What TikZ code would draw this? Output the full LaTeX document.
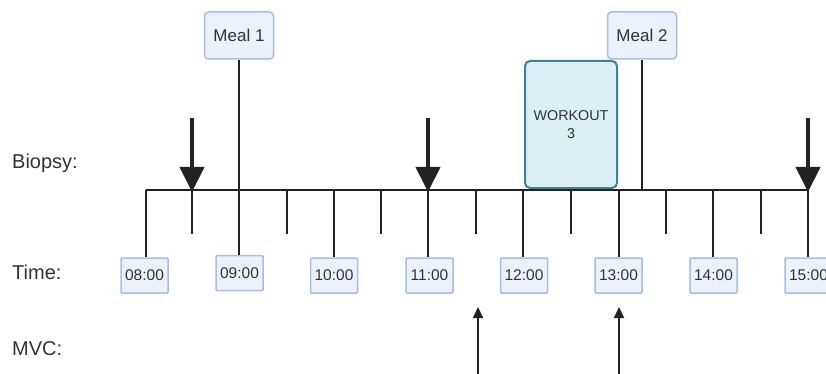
\documentclass[tikz,border=0pt]{standalone}
\usepackage{fontspec}
\setmainfont{Liberation Sans}
\usetikzlibrary{arrows.meta}
\definecolor{txt}{HTML}{333333}
\definecolor{ink}{HTML}{222222}
\definecolor{boxfill}{HTML}{ECF2FC}
\definecolor{boxline}{HTML}{A7BDE6}
\definecolor{wofill}{HTML}{DAEEF4}
\definecolor{woline}{HTML}{3F8290}
\tikzset{
  timebox/.style={draw=boxline, fill=boxfill, line width=1.5pt, rounded corners=1pt,
    minimum width=47pt, minimum height=35pt, inner sep=0pt, text=txt,
    font=\fontsize{15.5}{17}\selectfont},
  mealbox/.style={draw=boxline, fill=boxfill, line width=1.5pt, rounded corners=4pt,
    minimum width=69pt, minimum height=47pt, inner sep=0pt, text=txt,
    font=\fontsize{17}{19}\selectfont},
  workbox/.style={draw=woline, fill=wofill, line width=2pt, rounded corners=5pt,
    minimum width=92pt, minimum height=127pt, inner sep=0pt, text=txt, align=center,
    font=\fontsize{14.3}{18}\selectfont},
  rowlabel/.style={anchor=west, inner sep=0pt, text=txt, font=\fontsize{20}{22}\selectfont},
  axisline/.style={draw=ink, line width=2pt},
  biopsy/.style={draw=ink, line width=4pt, -{Triangle[width=24pt,length=25pt]}},
  mvc/.style={draw=ink, line width=2pt, -{Triangle[width=10pt,length=11pt]}}
}
\begin{document}
\begin{tikzpicture}[x=1pt,y=-1pt]
\useasboundingbox (0,0) rectangle (826,374);
\clip (0,0) rectangle (826,374);

% row labels
\node[rowlabel] (lbio) at (12,163) {Biopsy:};
\node[rowlabel] (ltime) at (12,272) {Time:};
\node[rowlabel] (lmvc) at (12,349) {MVC:};

% axis anchor points: hours and half hours
\foreach \n/\x in {h08/146, m08/192, h09/239, m09/287, h10/334, m10/381, h11/428,
                   m11/476, h12/523, m12/571, h13/619, m13/666, h14/713, m14/761, h15/808}
  \coordinate (\n) at (\x,190);
\coordinate (meal2pt) at (642,190);

% workout block sits on the axis
\node[workbox] (work) at (571,124.5) {WORKOUT\\3};

% main axis
\draw[axisline] (h08) -- (h15);

% half-hour ticks
\foreach \n in {m08,m09,m10,m11,m12,m13,m14}
  \draw[axisline] (\n) -- ++(0,44);

% hour boxes
\node[timebox] (b08) at (144.5,275.5) {08:00};
\node[timebox] (b09) at (239.5,273) {09:00};
\node[timebox] (b10) at (334,275.5) {10:00};
\node[timebox] (b11) at (429.5,275.5) {11:00};
\node[timebox] (b12) at (524,275.5) {12:00};
\node[timebox] (b13) at (618.5,275.5) {13:00};
\node[timebox] (b14) at (713.5,275.5) {14:00};
\node[timebox] (b15) at (808.5,275.5) {15:00};

% hour ticks
\draw[axisline] (h08) -- (h08 |- b08.north);
\draw[axisline] (h09) -- (h09 |- b09.north);
\draw[axisline] (h10) -- (h10 |- b10.north);
\draw[axisline] (h11) -- (h11 |- b11.north);
\draw[axisline] (h12) -- (h12 |- b12.north);
\draw[axisline] (h13) -- (h13 |- b13.north);
\draw[axisline] (h14) -- (h14 |- b14.north);
\draw[axisline] (h15) -- (h15 |- b15.north);

% meals
\node[mealbox] (meal1) at (239,35.5) {Meal 1};
\node[mealbox] (meal2) at (642,35.5) {Meal 2};
\draw[axisline] (meal1.south) -- (h09);
\draw[axisline] (meal2.south) -- (meal2pt);

% biopsy arrows
\coordinate (bio1) at (192,118);
\coordinate (bio2) at (428,118);
\coordinate (bio3) at (808,118);
\draw[biopsy] (bio1) -- ([yshift=-2pt]m08);
\draw[biopsy] (bio2) -- ([yshift=-2pt]h11);
\draw[biopsy] (bio3) -- ([yshift=-2pt]h15);

% MVC arrows
\coordinate (mvc1) at (478,376);
\coordinate (mvc2) at (619,376);
\coordinate (mvc1t) at (478,307);
\coordinate (mvc2t) at (619,307);
\draw[mvc] (mvc1) -- (mvc1t);
\draw[mvc] (mvc2) -- (mvc2t);
\end{tikzpicture}
\end{document}
